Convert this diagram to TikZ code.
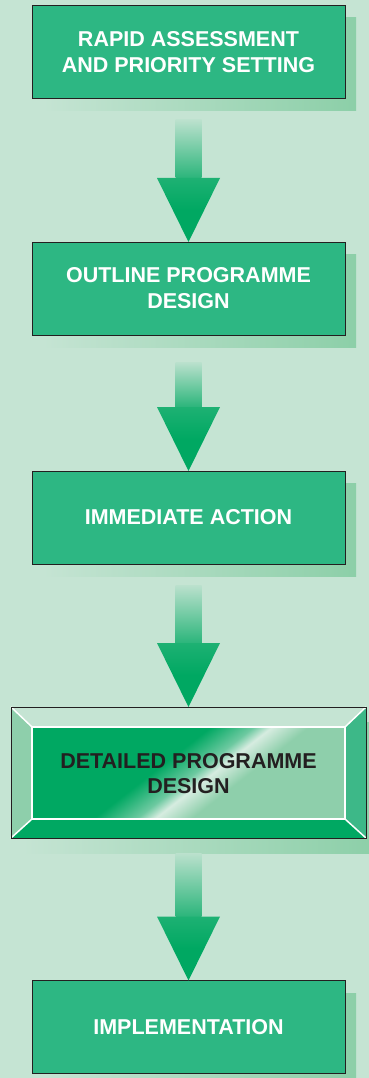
\documentclass[tikz,border=0pt]{standalone}
\usepackage{fontspec}
\setmainfont{Liberation Sans}
\usepackage{tikz}
\usetikzlibrary{calc}

\definecolor{bgmint}{HTML}{C5E4D3}
\definecolor{boxgreen}{HTML}{2DB783}
\definecolor{arrowgreen}{HTML}{00A862}
\definecolor{shadowgreen}{HTML}{8CCFA8}
\definecolor{bevelleft}{HTML}{8ECFAB}
\definecolor{bevelright}{HTML}{3DB888}
\definecolor{inkdark}{HTML}{231F20}

\pgfdeclarehorizontalshading{sheen}{100bp}{color(0bp)=(arrowgreen); color(44bp)=(arrowgreen); color(51bp)=(arrowgreen!45!bgmint); color(54bp)=(bgmint!70!white); color(60bp)=(bevelleft); color(100bp)=(bevelleft)}

% block arrow from one box down to the next: from node, gap, to node
\newcommand{\flowarrow}[3]{%
  \coordinate (#1-out) at ($(#1.south)+(0,#2)$);
  \coordinate (#3-in) at (#3.north);
  \shade[top color=arrowgreen!5!bgmint, bottom color=arrowgreen!78!bgmint]
    ($(#1-out)+(-13,0)$) rectangle ($(#3-in)+(13,-64)$);
  \shade[top color=arrowgreen!85!bgmint, bottom color=arrowgreen, middle color=arrowgreen]
    ($(#3-in)+(-31.5,-64)$) -- ($(#3-in)+(31.5,-64)$) -- (#3-in) -- cycle;
}

\begin{document}
\begin{tikzpicture}[x=1pt, y=-1pt,
    stepbox/.style={draw=inkdark, line width=1pt, fill=boxgreen, text=white,
      minimum width=313pt, minimum height=93pt, outer sep=0pt, inner sep=0pt,
      align=center, font=\fontsize{21.5}{26}\selectfont\bfseries},
    bevelbox/.style={minimum width=355pt, minimum height=131pt, outer sep=0pt,
      inner sep=0pt, align=center, text=inkdark,
      font=\fontsize{21.5}{25}\selectfont\bfseries},
    dropshadow/.style={left color=bgmint, right color=shadowgreen}]
  % Background
  \fill[bgmint] (0,0) rectangle (369,1078);
  \useasboundingbox (0,0) rectangle (369,1078);

  % FIRST BOX
  \shade[dropshadow] (43,18) rectangle (356,111);
  \node[stepbox] (rapid) at (188.5,52.5) {RAPID ASSESSMENT\\AND PRIORITY SETTING};

  % SECOND BOX
  \shade[dropshadow] (43,254) rectangle (356,347);
  \node[stepbox] (outline) at (188.5,288.5) {OUTLINE PROGRAMME\\DESIGN};

  % THIRD BOX
  \shade[dropshadow] (43,483) rectangle (356,576);
  \node[stepbox] (immediate) at (188.5,517.5) {IMMEDIATE ACTION};

  % FOURTH BOX (bevelled)
  \shade[dropshadow] (22,722) rectangle (377,853);
  \node[bevelbox] (detailed) at (188.5,772.5) {};
  % bevel faces
  \fill[bgmint] (detailed.north west) -- (detailed.north east)
    -- ($(detailed.north east)+(-21,20)$) -- ($(detailed.north west)+(21,20)$) -- cycle;
  \fill[bevelleft] (detailed.north west) -- ($(detailed.north west)+(21,20)$)
    -- ($(detailed.south west)+(21,-19)$) -- (detailed.south west) -- cycle;
  \fill[bevelright] (detailed.north east) -- ($(detailed.north east)+(-21,20)$)
    -- ($(detailed.south east)+(-21,-19)$) -- (detailed.south east) -- cycle;
  \fill[arrowgreen] (detailed.south west) -- ($(detailed.south west)+(21,-19)$)
    -- ($(detailed.south east)+(-21,-19)$) -- (detailed.south east) -- cycle;
  % glossy face
  \shade[shading=sheen, shading angle=-52]
    ($(detailed.north west)+(21,20)$) rectangle ($(detailed.south east)+(-21,-19)$);
  % white edges
  \draw[white, line width=1.5pt]
    ($(detailed.north west)+(21,20)$) rectangle ($(detailed.south east)+(-21,-19)$);
  \draw[white, line width=1.5pt] (detailed.north west) -- ($(detailed.north west)+(21,20)$);
  \draw[white, line width=1.5pt] (detailed.north east) -- ($(detailed.north east)+(-21,20)$);
  \draw[white, line width=1.5pt] (detailed.south west) -- ($(detailed.south west)+(21,-19)$);
  \draw[white, line width=1.5pt] (detailed.south east) -- ($(detailed.south east)+(-21,-19)$);
  \draw[inkdark, line width=1pt] (detailed.north west) rectangle (detailed.south east);
  \node[bevelbox] at (188.5,774) {DETAILED PROGRAMME\\DESIGN};

  % FIFTH BOX
  \shade[dropshadow] (43,993) rectangle (356,1086);
  \node[stepbox] (implementation) at (188.5,1027) {IMPLEMENTATION};

  % Arrows between the boxes
  \flowarrow{rapid}{21}{outline}
  \flowarrow{outline}{27}{immediate}
  \flowarrow{immediate}{21}{detailed}
  \flowarrow{detailed}{15}{implementation}
\end{tikzpicture}
\end{document}
